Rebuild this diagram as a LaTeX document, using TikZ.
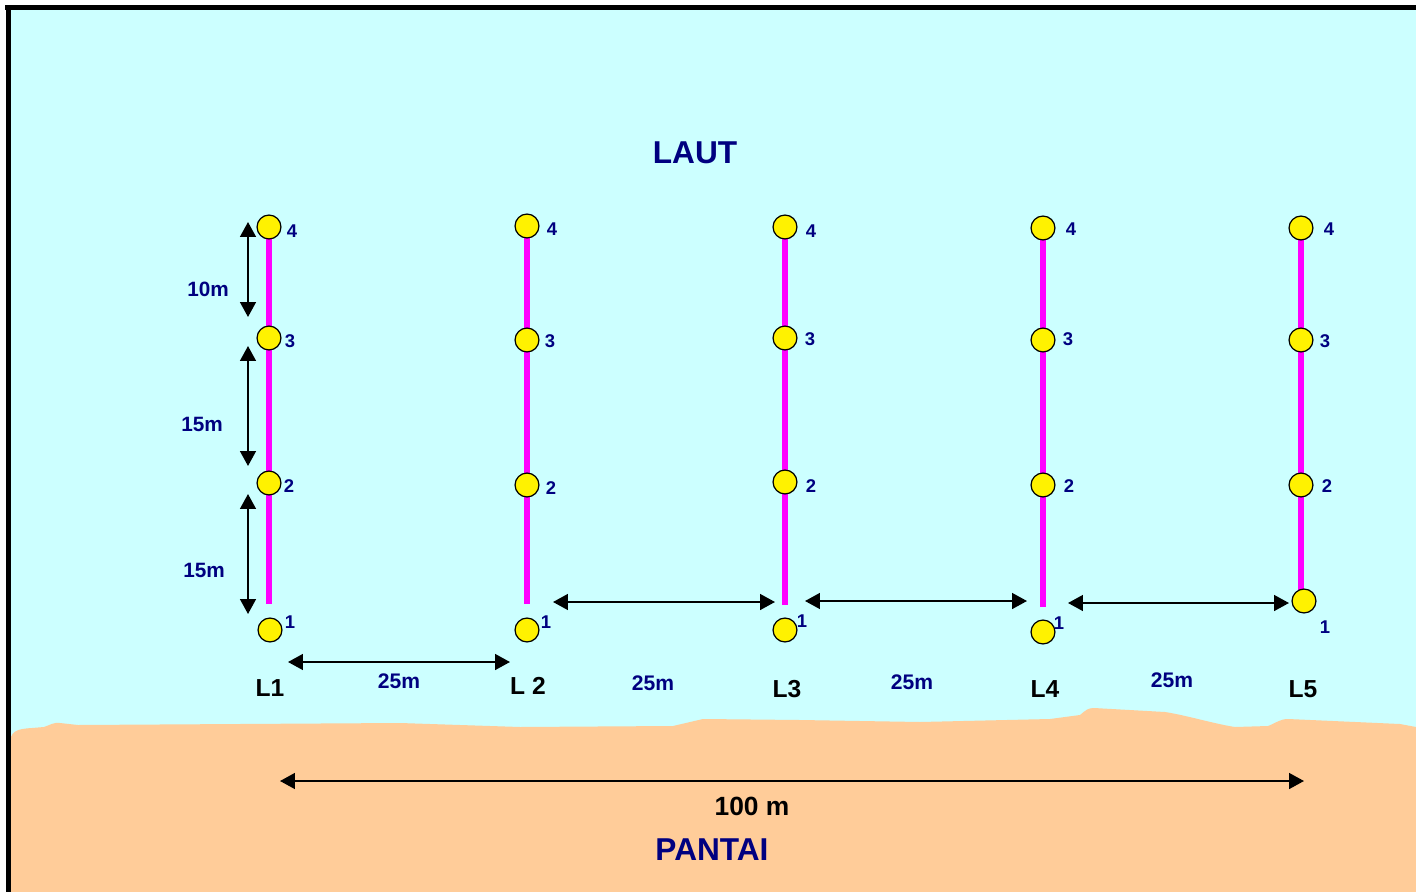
\documentclass[tikz,border=0pt]{standalone}
\usepackage{xcolor}
\usepackage{fontspec}
\setmainfont{Liberation Sans}
\usepackage{tikz}
\usetikzlibrary{arrows.meta}

\definecolor{laut}{HTML}{CCFFFF}
\definecolor{pasir}{HTML}{FFCC99}
\definecolor{biru}{HTML}{000080}
\definecolor{ungu}{HTML}{FF00FF}

\begin{document}
\begin{tikzpicture}[x=0.02cm, y=-0.02cm,
		titik/.style={circle, draw=black, line width=0.7pt, fill=yellow, minimum size=24*0.567pt, inner sep=0pt},
		nomor/.style={text=biru, font=\fontsize{10.5}{12}\selectfont\bfseries},
		jarak/.style={text=biru, font=\fontsize{11.8}{14}\selectfont\bfseries},
		jarakh/.style={text=biru, font=\fontsize{12}{14}\selectfont\bfseries},
		garis/.style={draw=ungu, line width=2.9pt},
		nama/.style={text=black, font=\fontsize{14}{16}\selectfont\bfseries},
		panah/.style={line width=1.1pt, {Triangle[length=8.5pt, width=9pt]}-{Triangle[length=8.5pt, width=9pt]}}]
		\useasboundingbox (0,0) rectangle (1416,892);
		% laut dan pantai
		\fill[laut] (10,9) rectangle (1416,892);
		\fill[pasir] (10,892) -- (10,745) .. controls (10,731) and (16,729) .. (32,728) -- (44,727) .. controls (50,725) and (54,722) .. (60,723) -- (78,725) -- (400,723) -- (520,727) -- (673,726) -- (703,719) -- (800,720) -- (920,722) -- (1050,719) -- (1080,715) .. controls (1086,710) and (1088,708) .. (1094,708) -- (1165,712) .. controls (1185,715) and (1215,724) .. (1235,727) -- (1268,726) .. controls (1276,723) and (1280,719) .. (1288,719) -- (1400,724) -- (1416,727) -- (1416,892) -- cycle;
		\draw[line width=2.3pt] (5,7.5) -- (1416,7.5);
		\draw[line width=2.3pt] (8.5,5.5) -- (8.5,892);
		% ujung garis transek
		\coordinate (L1-ujung) at (269,604);
		\coordinate (L2-ujung) at (527,604);
		\coordinate (L3-ujung) at (785,605);
		\coordinate (L4-ujung) at (1043,607);
		\coordinate (L5-ujung) at (1301,595);
		\coordinate (L1-atas) at (269,227);
		\coordinate (L2-atas) at (527,226);
		\coordinate (L3-atas) at (785,227);
		\coordinate (L4-atas) at (1043,228);
		\coordinate (L5-atas) at (1301,228);
		\draw[garis] (L1-atas) -- (L1-ujung);
		\draw[garis] (L2-atas) -- (L2-ujung);
		\draw[garis] (L3-atas) -- (L3-ujung);
		\draw[garis] (L4-atas) -- (L4-ujung);
		\draw[garis] (L5-atas) -- (L5-ujung);
		% titik L1
		\node[titik] (L1-4) at (269,227) {};
		\node[titik] (L1-3) at (269,338) {};
		\node[titik] (L1-2) at (269,483) {};
		\node[titik] (L1-1) at (270,630) {};
		\node[nomor] (n1-4) at (292,231) {4};
		\node[nomor] (n1-3) at (290,341) {3};
		\node[nomor] (n1-2) at (289,486) {2};
		\node[nomor] (n1-1) at (290,622) {1};
		% titik L2
		\node[titik] (L2-4) at (527,226) {};
		\node[titik] (L2-3) at (527,340) {};
		\node[titik] (L2-2) at (527,485) {};
		\node[titik] (L2-1) at (527,630) {};
		\node[nomor] (n2-4) at (552,229) {4};
		\node[nomor] (n2-3) at (550,341) {3};
		\node[nomor] (n2-2) at (551,488) {2};
		\node[nomor] (n2-1) at (546,622) {1};
		% titik L3
		\node[titik] (L3-4) at (785,227) {};
		\node[titik] (L3-3) at (785,338) {};
		\node[titik] (L3-2) at (785,482) {};
		\node[titik] (L3-1) at (785,630) {};
		\node[nomor] (n3-4) at (811,231) {4};
		\node[nomor] (n3-3) at (810,339) {3};
		\node[nomor] (n3-2) at (811,486) {2};
		\node[nomor] (n3-1) at (802,621) {1};
		% titik L4
		\node[titik] (L4-4) at (1043,228) {};
		\node[titik] (L4-3) at (1043,340) {};
		\node[titik] (L4-2) at (1043,485) {};
		\node[titik] (L4-1) at (1043,632) {};
		\node[nomor] (n4-4) at (1071,229) {4};
		\node[nomor] (n4-3) at (1068,339) {3};
		\node[nomor] (n4-2) at (1069,486) {2};
		\node[nomor] (n4-1) at (1059,623) {1};
		% titik L5
		\node[titik] (L5-4) at (1301,228) {};
		\node[titik] (L5-3) at (1301,340) {};
		\node[titik] (L5-2) at (1301,485) {};
		\node[titik] (L5-1) at (1304,601) {};
		\node[nomor] (n5-4) at (1329,229) {4};
		\node[nomor] (n5-3) at (1325,341) {3};
		\node[nomor] (n5-2) at (1327,486) {2};
		\node[nomor] (n5-1) at (1325,627) {1};
		% nama transek
		\node[nama] (L1) at (270,688) {L1};
		\node[nama] (L2) at (528,686) {L 2};
		\node[nama] (L3) at (787,689) {L3};
		\node[nama] (L4) at (1045,689) {L4};
		\node[nama] (L5) at (1303,689) {L5};
		% jarak antar titik
		\coordinate (v1a) at (248,222);
		\coordinate (v1b) at (248,317);
		\coordinate (v2a) at (248,346);
		\coordinate (v2b) at (248,466);
		\coordinate (v3a) at (248,494);
		\coordinate (v3b) at (248,614);
		\draw[panah] (v1a) -- (v1b);
		\draw[panah] (v2a) -- (v2b);
		\draw[panah] (v3a) -- (v3b);
		\node[jarak] (j1) at (208,289) {10m};
		\node[jarak] (j2) at (202,424) {15m};
		\node[jarak] (j3) at (204,570) {15m};
		% jarak antar transek
		\coordinate (h1a) at (288,662);
		\coordinate (h1b) at (510,662);
		\coordinate (h2a) at (553,602);
		\coordinate (h2b) at (775,602);
		\coordinate (h3a) at (805,601);
		\coordinate (h3b) at (1027,601);
		\coordinate (h4a) at (1068,603);
		\coordinate (h4b) at (1289,603);
		\draw[panah] (h1a) -- (h1b);
		\draw[panah] (h2a) -- (h2b);
		\draw[panah] (h3a) -- (h3b);
		\draw[panah] (h4a) -- (h4b);
		\node[jarakh] (k1) at (399,681) {25m};
		\node[jarakh] (k2) at (653,683) {25m};
		\node[jarakh] (k3) at (912,682) {25m};
		\node[jarakh] (k4) at (1172,680) {25m};
		% total
		\coordinate (t-kiri) at (280,781);
		\coordinate (t-kanan) at (1304,781);
		\draw[panah] (t-kiri) -- (t-kanan);
		\node[nama, font=\fontsize{15}{17}\selectfont\bfseries] (total) at (752,806) {100 m};
		\node[text=biru, font=\fontsize{18}{21}\selectfont\bfseries] (laut) at (695,153) {LAUT};
		\node[text=biru, font=\fontsize{18}{21}\selectfont\bfseries] (pantai) at (712,850) {PANTAI};
	\end{tikzpicture}
\end{document}
